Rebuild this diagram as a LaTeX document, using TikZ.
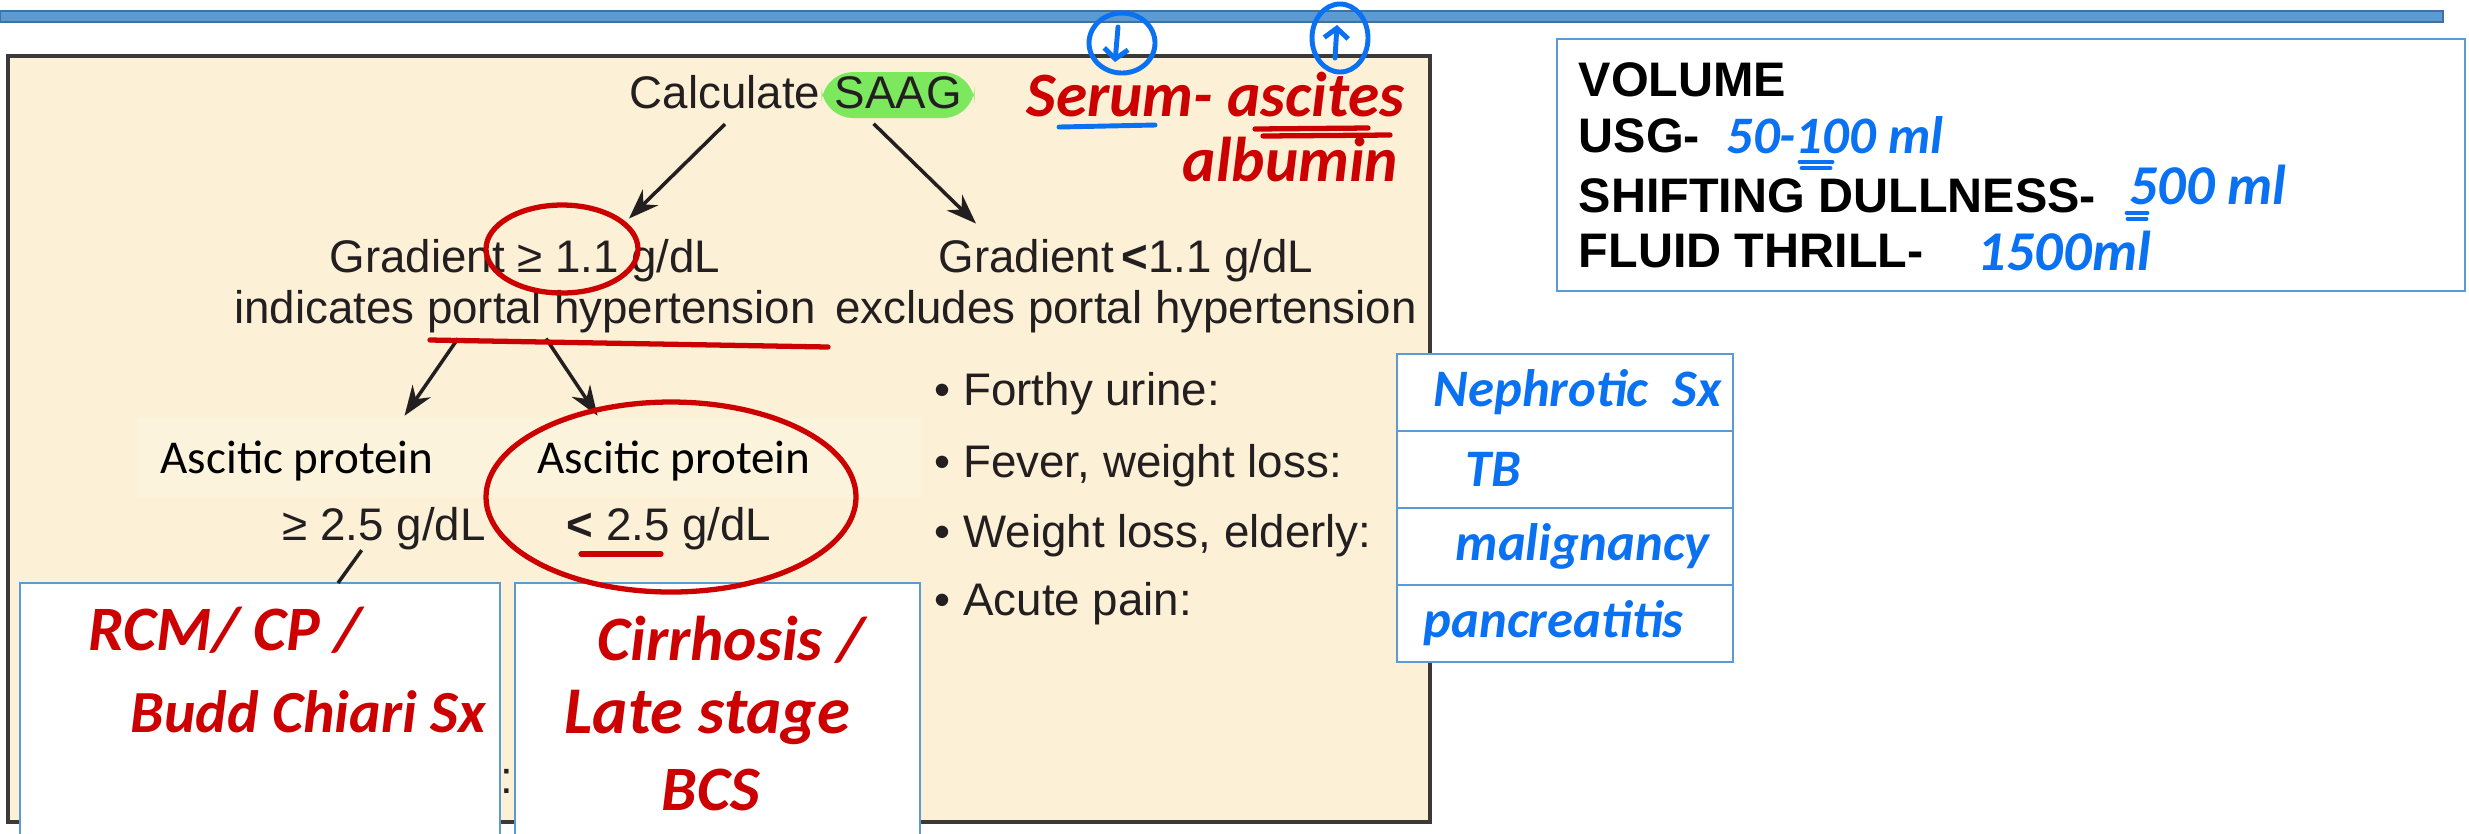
\documentclass[tikz,border=0pt]{standalone}
\usepackage{fontspec}
\setmainfont{Liberation Sans}
\newfontfamily\carlito{Carlito}
\usetikzlibrary{arrows.meta, positioning}

\definecolor{paper}{HTML}{FCF1D6}
\definecolor{paperlight}{HTML}{FCF3DD}
\definecolor{frame}{HTML}{3C3A38}
\definecolor{ink}{HTML}{231F20}
\definecolor{barblue}{HTML}{5B9BD5}
\definecolor{bardark}{HTML}{41719C}
\definecolor{boxline}{HTML}{5B9BD5}
\definecolor{hlgreen}{HTML}{7CE85E}
\definecolor{redink}{HTML}{CC0000}
\definecolor{blueink}{HTML}{0A72F2}

\begin{document}
\begin{tikzpicture}[
    >={Stealth[length=0.3cm, width=0.22cm]},
    txt/.style={font=\fontsize{13}{14.5}\selectfont, text=ink, inner sep=0pt},
    btxt/.style={font=\fontsize{13.8}{16}\selectfont\bfseries, text=black, inner sep=0pt},
    asc/.style={font=\carlito\fontsize{13.4}{15}\selectfont, text=black, inner sep=0pt},
    rhand/.style={font=\carlito\bfseries\itshape\fontsize{18}{20}\selectfont, text=redink, inner sep=0pt},
    bhand/.style={font=\carlito\bfseries\itshape\fontsize{15}{17}\selectfont, text=blueink, inner sep=0pt},
    arr/.style={->, draw=ink, line width=1pt},
    wbox/.style={draw=boxline, fill=white, line width=0.8pt, outer sep=0pt, inner sep=0pt},
    rowbox/.style={wbox, minimum width=3.36cm, minimum height=0.77cm},
    redline/.style={draw=redink, line width=1.5pt, line cap=round},
    blueline/.style={draw=blueink, line width=1.4pt, line cap=round}
]
\useasboundingbox (0,0) rectangle (24.69,-8.33);
\clip (0,0) rectangle (24.69,-8.33);
\fill[white] (0,0) rectangle (24.69,-8.33);

% slide bar and panel
\filldraw[fill=barblue, draw=bardark, line width=0.8pt] (0,-0.11) rectangle (24.43,-0.22);
\filldraw[fill=paper, draw=frame, line width=1.2pt] (0.08,-0.56) rectangle (14.30,-8.22);
\fill[paperlight] (1.37,-4.18) rectangle (9.21,-4.97);

% flow chart
\node[txt, anchor=base west] (calc) at (6.29,-1.08) {Calculate};
\node[txt, fill=hlgreen, rounded corners=9pt, inner xsep=0.13cm, inner ysep=0.04cm,
      text depth=0.06cm, anchor=base west] (saag) at (calc.base east) {SAAG};

\node[txt, align=center] (gradhi) at (5.25,-2.86) {Gradient ≥ 1.1 g/dL\\indicates portal hypertension};
\node[txt, align=center] (gradlo) at (11.26,-2.86) {Gradient\,{\bfseries <}1.1 g/dL\\excludes portal hypertension};

\draw[arr] ([yshift=-0.15cm]calc.south) -- ([shift={(1.04,0.20)}]gradhi.north);
\draw[arr] ([shift={(-0.245,-0.05)}]saag.south) -- ([shift={(-1.50,0.15)}]gradlo.north);

\node[asc, anchor=base west] (asc1) at (1.60,-4.73) {Ascitic protein};
\node[asc, anchor=base west] (asc2) at (5.37,-4.73) {Ascitic protein};
\node[txt, anchor=base west] (val1) at (2.82,-5.40) {≥ 2.5 g/dL};
\node[txt, anchor=base west] (val2) at (5.66,-5.40) {{\bfseries <} 2.5 g/dL};

\draw[arr] ([shift={(-0.67,-0.05)}]gradhi.south) -- ([shift={(1.075,0.24)}]asc1.north);
\draw[arr] ([shift={(0.21,-0.05)}]gradhi.south) -- ([shift={(-0.765,0.24)}]asc2.north);

\node[txt, anchor=base west] (b1) at (9.34,-4.05) {• Forthy urine:};
\node[txt, anchor=base west] (b2) at (9.34,-4.77) {• Fever, weight loss:};
\node[txt, anchor=base west] (b3) at (9.34,-5.47) {• Weight loss, elderly:};
\node[txt, anchor=base west] (b4) at (9.34,-6.15) {• Acute pain:};

% boxes pasted over the slide
\node[txt, anchor=base] (colon) at (5.07,-7.93) {:};
\node[wbox, minimum width=4.80cm, minimum height=2.8cm, anchor=north west] (box1) at (0.20,-5.83) {};
\node[wbox, minimum width=4.05cm, minimum height=2.8cm, anchor=north west] (box2) at (5.15,-5.83) {};
\draw[draw=ink, line width=1pt] ([xshift=-0.225cm]val1.south) -- ([xshift=0.78cm]box1.north);

\node[rowbox, anchor=north west] (r1) at (13.97,-3.54) {};
\node[rowbox, below=0pt of r1] (r2) {};
\node[rowbox, below=0pt of r2] (r3) {};
\node[rowbox, below=0pt of r3] (r4) {};

\node[wbox, minimum width=9.08cm, minimum height=2.52cm, anchor=north west] (vol) at (15.57,-0.39) {};
\node[btxt, anchor=base west] (vhead) at (15.78,-0.96) {VOLUME};
\node[btxt, anchor=base west] (usg) at (15.78,-1.52) {USG-};
\node[btxt, anchor=base west] (dull) at (15.78,-2.12) {SHIFTING DULLNESS-};
\node[btxt, anchor=base west] (thrill) at (15.78,-2.67) {FLUID THRILL-};

% blue ink
\node[bhand, right=0.25cm of usg] (usgml) {50-100 ml};
\node[bhand, font=\carlito\bfseries\itshape\fontsize{16}{18}\selectfont, right=0.32cm of dull, yshift=0.1cm] (dullml) {500 ml};
\node[bhand, font=\carlito\bfseries\itshape\fontsize{16}{18}\selectfont, right=0.53cm of thrill] (thrillml) {1500ml};
\draw[blueline] (18.00,-1.62) -- (18.32,-1.62);
\draw[blueline] (18.02,-1.68) -- (18.30,-1.68);
\draw[blueline] (21.27,-2.13) -- (21.47,-2.13);
\draw[blueline] (21.28,-2.19) -- (21.46,-2.19);

\node[bhand, right=0.36cm of r1.west] (neph) {Nephrotic\ \ Sx};
\node[bhand, right=0.68cm of r2.west] (tb) {TB};
\node[bhand, right=0.58cm of r3.west] (malig) {malignancy};
\node[bhand, right=0.26cm of r4.west] (panc) {pancreatitis};

\draw[blueline] (11.22,-0.43) ellipse [x radius=0.33, y radius=0.30];
\draw[blueline] (13.40,-0.38) ellipse [x radius=0.28, y radius=0.34];
\draw[blueline, -{Straight Barb[length=0.1cm, width=0.24cm]}] (11.18,-0.27) -- (11.15,-0.62);
\draw[blueline, -{Straight Barb[length=0.1cm, width=0.24cm]}] (13.35,-0.58) -- (13.37,-0.25);
\draw[blueline] (10.59,-1.27) -- (11.55,-1.25);

% red ink
\node[rhand, anchor=west] (serum) at (10.26,-0.95) {Serum- ascites};
\node[rhand, anchor=west] (alb) at (11.82,-1.60) {albumin};
\draw[redline] (12.55,-1.29) -- (13.68,-1.28);
\draw[redline] (12.63,-1.36) -- (13.90,-1.35);

\draw[redline] (5.62,-2.49) ellipse [x radius=0.76, y radius=0.44];
\draw[redline] (4.30,-3.40) -- (8.28,-3.47);
\draw[redline] (6.71,-4.97) ellipse [x radius=1.85, y radius=0.95];
\draw[redline] (5.81,-5.54) -- (6.61,-5.54);

\node[rhand, anchor=west] (rcm) at (0.88,-6.30) {RCM/ CP /};
\node[rhand, font=\carlito\bfseries\itshape\fontsize{17}{19}\selectfont, anchor=west] (budd) at (1.30,-7.12) {Budd Chiari Sx};
\node[rhand, anchor=west] (cirr) at (5.97,-6.40) {Cirrhosis /};
\node[rhand, font=\carlito\bfseries\itshape\fontsize{19}{21}\selectfont, anchor=west] (late) at (5.64,-7.17) {Late stage};
\node[rhand, anchor=west] (bcs) at (6.61,-7.90) {BCS};

\end{tikzpicture}
\end{document}
